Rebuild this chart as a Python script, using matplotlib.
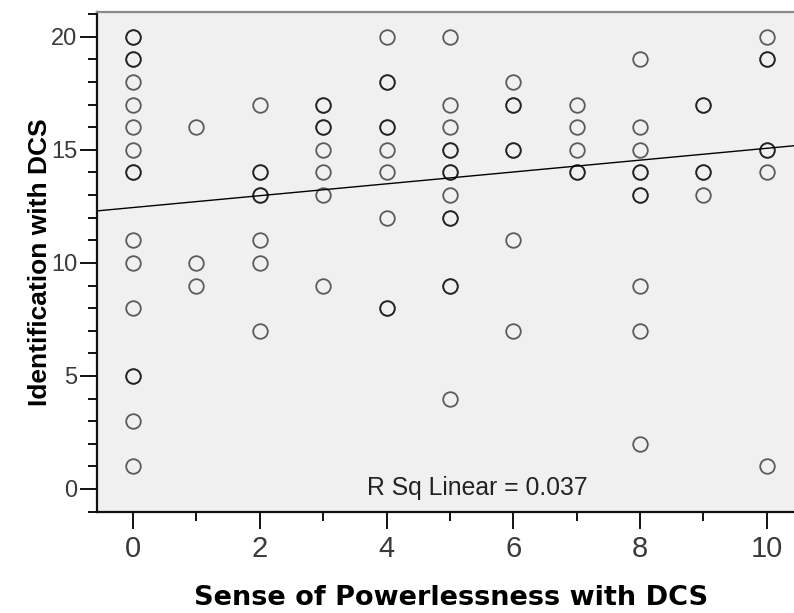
import numpy as np
import matplotlib
matplotlib.use("Agg")
import matplotlib.pyplot as plt
from matplotlib.ticker import MultipleLocator

plt.rcParams["font.family"] = ["Liberation Sans", "DejaVu Sans"]

# Sense of Powerlessness score -> list of Identification scores (repeats = overlapping cases)
powerlessness = [0, 1, 2, 3, 4, 5, 6, 7, 8, 9, 10]
identification = [
    [20, 20, 19, 19, 18, 17, 16, 15, 14, 14, 11, 10, 8, 5, 5, 3, 1],
    [16, 10, 9],
    [17, 14, 14, 13, 13, 11, 10, 7],
    [17, 17, 16, 16, 15, 14, 13, 9],
    [20, 18, 18, 16, 16, 15, 14, 12, 8, 8],
    [20, 17, 16, 15, 15, 14, 14, 13, 12, 12, 9, 9, 4],
    [18, 17, 17, 15, 15, 11, 7],
    [17, 16, 15, 14, 14],
    [19, 16, 15, 14, 14, 13, 13, 9, 7, 2],
    [17, 17, 14, 14, 13],
    [20, 19, 19, 15, 15, 14, 1],
]
# linear fit reported with the chart
fit_intercept = 12.45
fit_slope = 0.262
r_sq_label = "R Sq Linear = 0.037"

xs = np.concatenate([[p] * len(v) for p, v in zip(powerlessness, identification)])
ys = np.concatenate(identification)

fig = plt.figure(figsize=(7.94, 6.13), dpi=100)
ax = fig.add_axes([97 / 794, 1 - 512 / 613, 1 - 97 / 794, (512 - 12) / 613])
ax.set_facecolor("#f0f0f0")

xlim = (-0.57, 10.43)
ylim = (-1.02, 21.1)
ax.set_xlim(*xlim)
ax.set_ylim(*ylim)

ax.plot(xs, ys, linestyle="none", marker="o", markersize=10.5,
        markerfacecolor="none", markeredgecolor=(0, 0, 0, 0.62),
        markeredgewidth=1.3, zorder=3)

fx = np.array(xlim)
ax.plot(fx, fit_intercept + fit_slope * fx, color="black", linewidth=1.0, zorder=2)

ax.text(5.43, 0.05, r_sq_label, ha="center", va="center",
        fontsize=17.8, color="#222222", zorder=4)

ax.xaxis.set_major_locator(MultipleLocator(2))
ax.xaxis.set_minor_locator(MultipleLocator(1))
ax.yaxis.set_major_locator(MultipleLocator(5))
ax.yaxis.set_minor_locator(MultipleLocator(1))

ax.tick_params(axis="both", which="major", direction="out", length=12.5,
               width=1.4, color="#111111", labelcolor="#3a3a3a")
ax.tick_params(axis="both", which="minor", direction="out", length=6.5,
               width=1.4, color="#111111")
ax.tick_params(axis="x", which="major", pad=4, labelsize=21)
ax.tick_params(axis="y", which="major", pad=1.5, labelsize=17)

for side in ("left", "bottom"):
    ax.spines[side].set_color("#111111")
    ax.spines[side].set_linewidth(1.6)
ax.spines["top"].set_color("#8a8a8a")
ax.spines["top"].set_linewidth(1.6)
ax.spines["right"].set_visible(False)

fig.text(451 / 794, 1 - 598 / 613, "Sense of Powerlessness with DCS",
         ha="center", va="center", fontsize=19.5, fontweight="bold",
         family=["DejaVu Sans"])
fig.text(40 / 794, 1 - 262 / 613, "Identification with DCS",
         ha="center", va="center", rotation=90, fontsize=19, fontweight="bold")

fig.savefig("out.png", dpi=100)
